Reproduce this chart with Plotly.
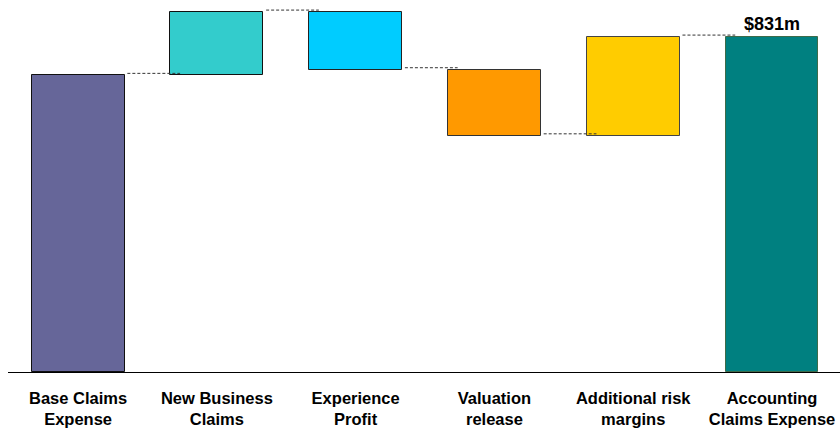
import plotly.graph_objects as go

# Claims expense walk ($m)
categories = [
    "Base Claims<br>Expense",
    "New Business<br>Claims",
    "Experience<br>Profit",
    "Valuation<br>release",
    "Additional risk<br>margins",
    "Accounting<br>Claims Expense",
]
steps = [736, 157, -143, -164, 245]          # opening value then movements
kinds = ["total", "delta", "delta", "delta", "delta", "total"]

fill_colors = ["#666699", "#33CCCC", "#00CCFF", "#FF9900", "#FFCC00", "#008080"]
edge_colors = ["#111111", "#111111", "#222222", "#333333", "#444444", "#3D6B4A"]

# running levels for floating bars
levels = []
running = 0
bases, heights = [], []
for i, k in enumerate(kinds):
    if i == 0:
        running = steps[0]
        bases.append(0)
        heights.append(running)
    elif k == "delta":
        prev = running
        running += steps[i]
        bases.append(min(prev, running))
        heights.append(abs(steps[i]))
    else:
        bases.append(0)
        heights.append(running)
    levels.append(running)

total = levels[-1]
xs = list(range(len(categories)))
bar_w = 0.67

fig = go.Figure()
fig.add_trace(go.Bar(
    x=xs, y=heights, base=bases, width=bar_w,
    marker=dict(color=fill_colors, line=dict(color=edge_colors, width=1)),
    hoverinfo="skip",
))

# dashed connectors between consecutive bars, drawn at each running level
for i in range(len(xs) - 1):
    fig.add_shape(
        type="line", xref="x", yref="y",
        x0=xs[i] + bar_w / 2 + 0.02, x1=xs[i + 1] - bar_w / 2 + 0.07,
        ysizemode="pixel", yanchor=levels[i], y0=2, y1=2,
        line=dict(color="#333333", width=1, dash="3px,2px"),
        layer="above",
    )

fig.add_annotation(
    x=xs[-1], y=total, yref="y", xref="x",
    text=f"<b>${total}m</b>", showarrow=False,
    yanchor="bottom", yshift=1,
    font=dict(family="Arial, Liberation Sans, sans-serif", size=18, color="#000000"),
)

fig.update_layout(
    width=840, height=428,
    margin=dict(l=8, r=0, t=0, b=56),
    paper_bgcolor="white", plot_bgcolor="white",
    showlegend=False,
    bargap=0,
    font=dict(family="Arial, Liberation Sans, sans-serif", size=16.5, color="#000000"),
)
fig.update_xaxes(
    range=[-0.505, 5.49],
    tickmode="array", tickvals=xs,
    ticktext=[f"<b>{c}</b>" for c in categories],
    showline=True, linecolor="#000000", linewidth=1,
    showgrid=False, zeroline=False, ticks="",
    ticklabelstandoff=11,
)
fig.update_yaxes(range=[0, 923], visible=False, showgrid=False, zeroline=False)

fig.write_html("out.html")
